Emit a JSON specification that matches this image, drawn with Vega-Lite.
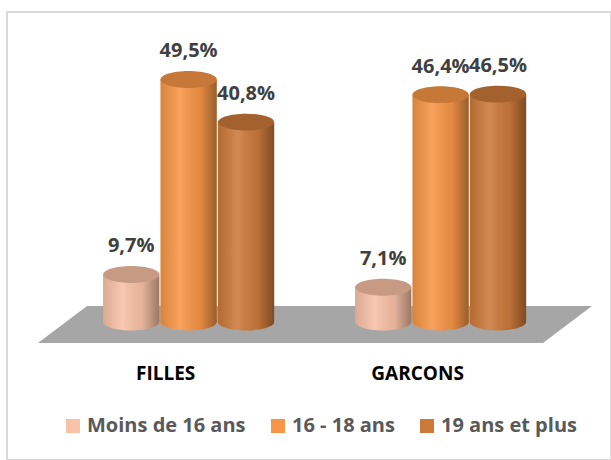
{
  "$schema": "https://vega.github.io/schema/vega-lite/v6.json",
  "width": 604,
  "height": 448,
  "autosize": {"type": "none"},
  "padding": {"left": 7, "top": 12, "right": 0, "bottom": 0},
  "background": "white",
  "config": {
    "view": {"stroke": "#D9D9D9", "strokeWidth": 2},
    "locale": {"number": {"decimal": ",", "thousands": " ", "grouping": [3], "currency": ["", " €"]}},
    "font": "Open Sans"
  },
  "datasets": {
    "bars": [
      {"sexe": "FILLES", "age": "Moins de 16 ans", "value": 0.097},
      {"sexe": "FILLES", "age": "16 - 18 ans", "value": 0.495},
      {"sexe": "FILLES", "age": "19 ans et plus", "value": 0.408},
      {"sexe": "GARCONS", "age": "Moins de 16 ans", "value": 0.071},
      {"sexe": "GARCONS", "age": "16 - 18 ans", "value": 0.464},
      {"sexe": "GARCONS", "age": "19 ans et plus", "value": 0.465}
    ],
    "floor": [
      {"fx": 5.13, "top": -0.0429, "bottom": -0.0429},
      {"fx": 13.25, "top": 0.0327, "bottom": -0.0429},
      {"fx": 88.74, "top": 0.0327, "bottom": -0.0429},
      {"fx": 96.85, "top": 0.0327, "bottom": 0.0327}
    ]
  },
  "resolve": {"scale": {"x": "independent"}},
  "layer": [
    {
      "data": {"name": "floor"},
      "mark": {"type": "area", "color": "#A6A6A6", "opacity": 1},
      "encoding": {
        "x": {"field": "fx", "type": "quantitative", "scale": {"domain": [0, 100], "nice": false, "zero": false}, "axis": null},
        "y": {"field": "top", "type": "quantitative", "scale": {"domain": [-0.2816, 0.6327], "nice": false, "zero": false}, "axis": null},
        "y2": {"field": "bottom"}
      }
    },
    {
      "data": {"name": "bars"},
      "encoding": {
        "x": {
          "field": "sexe", "type": "nominal", "title": null,
          "scale": {"type": "band", "paddingInner": 0.321, "paddingOuter": 0.359, "align": 0.531},
          "axis": {"domain": false, "ticks": false, "labelAngle": 0, "labelFont": "Open Sans", "labelFontSize": 19, "labelFontWeight": "bold", "labelColor": "#000000", "offset": -87, "labelPadding": 0, "labelBaseline": "middle", "labelOffset": -23, "grid": false}
        },
        "xOffset": {
          "field": "age", "type": "nominal",
          "scale": {"domain": ["Moins de 16 ans", "16 - 18 ans", "19 ans et plus"], "paddingInner": 0.02, "paddingOuter": 0}
        }
      },
      "layer": [
        {
          "mark": {"type": "point", "shape": "M-1,0A1,0.3,0,1,0,1,0A1,0.3,0,1,0,-1,0Z", "size": 3158, "filled": true, "opacity": 1, "strokeWidth": 0},
          "encoding": {
            "y": {"datum": 0, "type": "quantitative", "axis": null},
            "color": {
              "field": "age", "type": "nominal",
              "scale": {"domain": ["Moins de 16 ans", "16 - 18 ans", "19 ans et plus"], "range": ["#F9C1A6", "#F79646", "#CC7A3A"]},
              "legend": {
                "orient": "none", "legendX": 56, "legendY": 404, "direction": "horizontal", "title": null,
                "symbolType": "square", "symbolSize": 196, "symbolStrokeWidth": 0, "symbolOpacity": 1,
                "labelFont": "Open Sans", "labelFontSize": 20, "labelFontWeight": "bold", "labelColor": "#595959",
                "labelLimit": 400, "columnPadding": 22, "labelOffset": 4
              }
            }
          }
        },
        {
          "mark": {"type": "point", "shape": "M-1,0A1,0.3,0,1,0,1,0A1,0.3,0,1,0,-1,0Z", "size": 3158, "filled": true, "opacity": 1, "strokeWidth": 0,
            "fill": {"gradient": "linear", "x1": 0, "x2": 1, "y1": 0, "y2": 0, "stops": [
              {"offset": 0, "color": "rgba(0,0,0,0.12)"},
              {"offset": 0.35, "color": "rgba(255,255,255,0.12)"},
              {"offset": 0.7, "color": "rgba(0,0,0,0.08)"},
              {"offset": 1, "color": "rgba(0,0,0,0.38)"}
            ]}},
          "encoding": {"y": {"datum": 0, "type": "quantitative", "axis": null}}
        },
        {
          "mark": {"type": "bar"},
          "encoding": {
            "y": {"field": "value", "type": "quantitative", "axis": null},
            "y2": {"datum": 0},
            "color": {"field": "age", "type": "nominal"}
          }
        },
        {
          "mark": {"type": "bar",
            "fill": {"gradient": "linear", "x1": 0, "x2": 1, "y1": 0, "y2": 0, "stops": [
              {"offset": 0, "color": "rgba(0,0,0,0.12)"},
              {"offset": 0.35, "color": "rgba(255,255,255,0.12)"},
              {"offset": 0.7, "color": "rgba(0,0,0,0.08)"},
              {"offset": 1, "color": "rgba(0,0,0,0.38)"}
            ]}},
          "encoding": {
            "y": {"field": "value", "type": "quantitative", "axis": null},
            "y2": {"datum": 0}
          }
        },
        {
          "mark": {"type": "point", "shape": "M-1,0A1,0.3,0,1,0,1,0A1,0.3,0,1,0,-1,0Z", "size": 3158, "filled": true, "opacity": 1, "strokeWidth": 0},
          "encoding": {
            "y": {"field": "value", "type": "quantitative", "axis": null},
            "color": {"field": "age", "type": "nominal"}
          }
        },
        {
          "mark": {"type": "point", "shape": "M-1,0A1,0.3,0,1,0,1,0A1,0.3,0,1,0,-1,0Z", "size": 3158, "filled": true, "fill": "#000000", "opacity": 0.2, "strokeWidth": 0},
          "encoding": {
            "y": {"field": "value", "type": "quantitative", "axis": null}
          }
        },
        {
          "mark": {"type": "text", "dy": -28, "baseline": "middle", "align": "center", "font": "Open Sans", "fontSize": 20, "fontWeight": "bold", "color": "#404040"},
          "encoding": {
            "y": {"field": "value", "type": "quantitative", "axis": null},
            "text": {"field": "value", "type": "quantitative", "format": ".1%"}
          }
        }
      ]
    }
  ]
}
